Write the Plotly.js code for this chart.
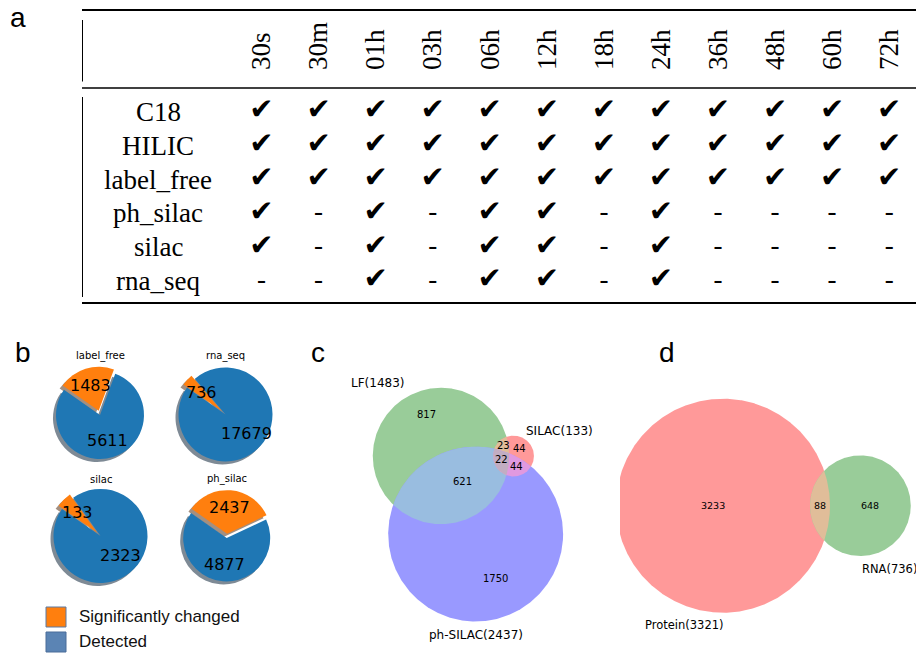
<!DOCTYPE html>
<html>
<head>
<meta charset="utf-8">
<script src="https://cdn.plot.ly/plotly-3.0.1.min.js"></script>
<style>html,body{margin:0;padding:0;background:#fff;}#chart{width:916px;height:653px;}</style>
</head>
<body>
<div id="chart"></div>
<script>
// ================= DATA =================
// Panel a: availability table
const timepoints = ['30s','30m','01h','03h','06h','12h','18h','24h','36h','48h','60h','72h'];
const datasets = ['C18','HILIC','label_free','ph_silac','silac','rna_seq'];
const availC18       = [1,1,1,1,1,1,1,1,1,1,1,1];
const availHILIC     = [1,1,1,1,1,1,1,1,1,1,1,1];
const availLabelFree = [1,1,1,1,1,1,1,1,1,1,1,1];
const availPhSilac   = [1,0,1,0,1,1,0,1,0,0,0,0];
const availSilac     = [1,0,1,0,1,1,0,1,0,0,0,0];
const availRnaSeq    = [0,0,1,0,1,1,0,1,0,0,0,0];
// Panel b: pies
const pieNames    = ['label_free','rna_seq','silac','ph_silac'];
const pieChanged  = [1483, 736, 133, 2437];
const pieDetected = [5611, 17679, 2323, 4877];
const sliceLabels = ['Significantly changed','Detected'];
// Panel c: 3-set Venn, region counts in order Abc, aBc, ABc, abC, AbC, aBC, ABC
const vennCNames   = ['LF','SILAC','ph-SILAC'];
const vennCRegions = [817, 44, 23, 1750, 621, 44, 22];
// Panel d: 2-set Venn, region counts in order Ab, aB, AB
const vennDNames   = ['Protein','RNA'];
const vennDRegions = [3233, 648, 88];

// ================= HELPERS =================
const W = 916, H = 653;
const px = x => x / W;
const py = y => 1 - y / H;
const traces = [];
const annotations = [];
const shapes = [];
const BLACK = '#000000';
const SERIF = 'Liberation Serif, Times New Roman, serif';

// ================= PANEL A =================
const availRows = [availC18, availHILIC, availLabelFree, availPhSilac, availSilac, availRnaSeq];
const chkX = [], chkY = [], dashX = [], dashY = [];
availRows.forEach((row, i) => row.forEach((v, j) => {
  if (v) { chkX.push(timepoints[j]); chkY.push(datasets[i]); }
  else { dashX.push(timepoints[j]); dashY.push(datasets[i]); }
}));
traces.push({type:'scatter', mode:'text', x:chkX, y:chkY, text:chkX.map(() => '\u2714'),
  textfont:{family:'DejaVu Sans', size:29, color:BLACK}, xaxis:'x', yaxis:'y',
  hoverinfo:'skip', showlegend:false, cliponaxis:false});
traces.push({type:'scatter', mode:'text', x:dashX, y:dashY, text:dashX.map(() => '-'),
  textfont:{family:SERIF, size:27, color:BLACK}, xaxis:'x', yaxis:'y',
  hoverinfo:'skip', showlegend:false, cliponaxis:false});
datasets.forEach(d => annotations.push({xref:'paper', yref:'y', x:px(158), y:d, text:d,
  showarrow:false, xanchor:'center', yanchor:'middle',
  font:{family:SERIF, size:27, color:BLACK}}));
// booktabs-style rules
shapes.push({type:'line', xref:'paper', yref:'paper', x0:px(82), x1:1, y0:py(10), y1:py(10), line:{color:BLACK, width:2}});
shapes.push({type:'line', xref:'paper', yref:'paper', x0:px(82), x1:1, y0:py(88), y1:py(88), line:{color:BLACK, width:1.4}});
shapes.push({type:'line', xref:'paper', yref:'paper', x0:px(82), x1:1, y0:py(303), y1:py(303), line:{color:BLACK, width:2}});
shapes.push({type:'line', xref:'paper', yref:'paper', x0:px(82.5), x1:px(82.5), y0:py(20), y1:py(81.5), line:{color:BLACK, width:1}});
shapes.push({type:'line', xref:'paper', yref:'paper', x0:px(82.5), x1:px(82.5), y0:py(97), y1:py(297), line:{color:BLACK, width:1}});

// ================= PANEL B =================
const pieGeom = [
  {cx:100,   cy:415,   r:44,   ty:356},
  {cx:225.5, cy:414.5, r:47,   ty:356},
  {cx:100.5, cy:536,   r:47,   ty:479},
  {cx:226.7, cy:538,   r:43.5, ty:479}
];
const PULL = 0.1, ROT = -55, SH = 3;
const pieColors = ['#ff7f0e', '#1f77b4'];
const shadowColors = ['#a38f80', '#7e8a95'];
function pieDomain(g, dx, dy) {
  const half = g.r * (1 + PULL);
  return {x:[px(g.cx + dx - half), px(g.cx + dx + half)], y:[py(g.cy + dy + half), py(g.cy + dy - half)]};
}
const pieBase = {type:'pie', sort:false, direction:'clockwise', rotation:ROT, pull:[PULL, 0],
  textinfo:'none', textposition:'none', hoverinfo:'none', showlegend:false};
pieNames.forEach((n, i) => {
  traces.push(Object.assign({}, pieBase, {labels:sliceLabels, values:[pieChanged[i], pieDetected[i]],
    domain:pieDomain(pieGeom[i], -SH, SH), marker:{colors:shadowColors, line:{width:0}}}));
});
pieNames.forEach((n, i) => {
  traces.push(Object.assign({}, pieBase, {labels:sliceLabels, values:[pieChanged[i], pieDetected[i]],
    domain:pieDomain(pieGeom[i], 0, 0), marker:{colors:pieColors, line:{width:0}}}));
  const g = pieGeom[i];
  const f = pieChanged[i] / (pieChanged[i] + pieDetected[i]);
  const phiO = (ROT + f * 180) * Math.PI / 180;
  const phiB = (ROT + f * 360 + (1 - f) * 180) * Math.PI / 180;
  const dO = g.r * (0.6 + PULL), dB = g.r * 0.6;
  annotations.push({xref:'paper', yref:'paper', x:px(g.cx + dO * Math.sin(phiO)), y:py(g.cy - dO * Math.cos(phiO)),
    text:String(pieChanged[i]), showarrow:false, xanchor:'center', yanchor:'middle',
    font:{family:'DejaVu Sans', size:16, color:BLACK}});
  annotations.push({xref:'paper', yref:'paper', x:px(g.cx + dB * Math.sin(phiB)), y:py(g.cy - dB * Math.cos(phiB)),
    text:String(pieDetected[i]), showarrow:false, xanchor:'center', yanchor:'middle',
    font:{family:'DejaVu Sans', size:16, color:BLACK}});
  annotations.push({xref:'paper', yref:'paper', x:px(g.cx), y:py(g.ty), text:n, showarrow:false,
    xanchor:'center', yanchor:'middle', font:{family:'DejaVu Sans', size:10, color:BLACK}});
});
// legend
shapes.push({type:'rect', xref:'paper', yref:'paper', x0:px(46), x1:px(66), y0:py(627), y1:py(607),
  fillcolor:pieColors[0], line:{color:'#5a7aa5', width:1}});
shapes.push({type:'rect', xref:'paper', yref:'paper', x0:px(46), x1:px(66), y0:py(652), y1:py(632),
  fillcolor:'#5b84b4', line:{color:'#4a6d99', width:1}});
annotations.push({xref:'paper', yref:'paper', x:px(77), y:py(616), text:sliceLabels[0], showarrow:false,
  xanchor:'left', yanchor:'middle', font:{family:'Liberation Sans', size:17, color:'#111'}});
annotations.push({xref:'paper', yref:'paper', x:px(77), y:py(641), text:sliceLabels[1], showarrow:false,
  xanchor:'left', yanchor:'middle', font:{family:'Liberation Sans', size:17, color:'#111'}});

// ================= VENN HELPERS =================
function lensArea(r1, r2, d) {
  if (d >= r1 + r2) return 0;
  if (d <= Math.abs(r1 - r2)) return Math.PI * Math.min(r1, r2) ** 2;
  const a1 = Math.acos((d*d + r1*r1 - r2*r2) / (2*d*r1));
  const a2 = Math.acos((d*d + r2*r2 - r1*r1) / (2*d*r2));
  return r1*r1*a1 + r2*r2*a2 - 0.5*Math.sqrt((-d+r1+r2)*(d+r1-r2)*(d-r1+r2)*(d+r1+r2));
}
function solveDistance(r1, r2, area) {
  let lo = Math.abs(r1 - r2), hi = r1 + r2;
  for (let i = 0; i < 200; i++) { const m = (lo + hi) / 2; if (lensArea(r1, r2, m) > area) lo = m; else hi = m; }
  return (lo + hi) / 2;
}
function circlePoly(c, n) {
  const pts = [];
  for (let k = 0; k < n; k++) { const t = 2 * Math.PI * k / n; pts.push([c.x + c.r * Math.cos(t), c.y + c.r * Math.sin(t)]); }
  return pts;
}
function clipPoly(subject, clip) {
  let output = subject;
  for (let i = 0; i < clip.length; i++) {
    const a = clip[i], b = clip[(i + 1) % clip.length];
    const input = output; output = [];
    if (!input.length) break;
    const ex = b[0] - a[0], ey = b[1] - a[1];
    const inside = p => ex * (p[1] - a[1]) - ey * (p[0] - a[0]) >= 0;
    const inter = (S, E) => {
      const dx = E[0] - S[0], dy = E[1] - S[1];
      const t = (ey * (S[0] - a[0]) - ex * (S[1] - a[1])) / (ex * dy - ey * dx);
      return [S[0] + t * dx, S[1] + t * dy];
    };
    let S = input[input.length - 1];
    for (const E of input) {
      if (inside(E)) { if (!inside(S)) output.push(inter(S, E)); output.push(E); }
      else if (inside(S)) output.push(inter(S, E));
      S = E;
    }
  }
  return output;
}
function vennRGB(c) { return 'rgb(' + c.map(v => Math.round(255 * (0.6 + 0.4 * Math.min(v, 1)))).join(',') + ')'; }
function mix(cols, k) { return [0,1,2].map(ch => Math.min(1, k * cols.reduce((s, c) => s + c[ch], 0))); }
function fillTrace(poly, color, xa, ya) {
  const xs = poly.map(p => p[0]), ys = poly.map(p => p[1]);
  xs.push(xs[0]); ys.push(ys[0]);
  return {type:'scatter', mode:'lines', x:xs, y:ys, fill:'toself', fillcolor:color,
    line:{width:0, color:color}, xaxis:xa, yaxis:ya, hoverinfo:'skip', showlegend:false};
}
// label position heuristic from the region's bounding arcs
function regionLabel(circles, bits, largeArcRule) {
  const N = 2880, mids = [], lens = [];
  circles.forEach((c, i) => {
    const match = [];
    for (let k = 0; k < N; k++) {
      const t = 2 * Math.PI * k / N, p = [c.x + c.r * Math.cos(t), c.y + c.r * Math.sin(t)];
      let ok = true;
      circles.forEach((o, j) => { if (j !== i && ((Math.hypot(p[0] - o.x, p[1] - o.y) < o.r) !== !!bits[j])) ok = false; });
      match.push(ok);
    }
    const start = match.indexOf(false);
    if (start < 0) return;
    let k = 0;
    while (k < N) {
      if (match[(start + k) % N]) {
        let len = 0;
        while (k < N && match[(start + k) % N]) { len++; k++; }
        const mi = start + k - len + (len - 1) / 2;
        const t = 2 * Math.PI * mi / N;
        mids.push([c.x + c.r * Math.cos(t), c.y + c.r * Math.sin(t)]);
        lens.push(len * 360 / N);
      } else k++;
    }
  });
  let pos = [mids.reduce((s, m) => s + m[0], 0) / mids.length, mids.reduce((s, m) => s + m[1], 0) / mids.length];
  if (largeArcRule) {
    let bi = 0; lens.forEach((l, i) => { if (l > lens[bi]) bi = i; });
    if (lens[bi] > 180) pos = [(pos[0] + mids[bi][0]) / 2, (pos[1] + mids[bi][1]) / 2];
  }
  return pos;
}

// ================= PANEL C =================
const [cAbc, caBc, cABc, cabC, cAbC, caBC, cABC] = vennCRegions;
const nA = cAbc + cABc + cAbC + cABC, nB = caBc + cABc + caBC + cABC, nC = cabC + cAbC + caBC + cABC;
const rA = Math.sqrt(nA / Math.PI), rB = Math.sqrt(nB / Math.PI), rC = Math.sqrt(nC / Math.PI);
const dAB = solveDistance(rA, rB, cABc + cABC);
const dAC = solveDistance(rA, rC, cAbC + cABC);
const dBC = solveDistance(rB, rC, caBC + cABC);
const xC = (dAC * dAC - dBC * dBC + dAB * dAB) / (2 * dAB);
const circC = [{x:0, y:0, r:rA}, {x:dAB, y:0, r:rB}, {x:xC, y:-Math.sqrt(Math.max(0, dAC * dAC - xC * xC)), r:rC}];
const setColC = [[0,0.5,0],[1,0,0],[0,0,1]];
const SC = 3.14, cPx = [441, 456];
const polysC = circC.map(c => circlePoly(c, 720));
polysC.forEach((p, i) => traces.push(fillTrace(p, vennRGB(setColC[i]), 'x2', 'y2')));
traces.push(fillTrace(clipPoly(polysC[0], polysC[1]), vennRGB(mix([setColC[0], setColC[1]], 0.7)), 'x2', 'y2'));
traces.push(fillTrace(clipPoly(polysC[0], polysC[2]), vennRGB(mix([setColC[0], setColC[2]], 0.7)), 'x2', 'y2'));
traces.push(fillTrace(clipPoly(polysC[1], polysC[2]), vennRGB(mix([setColC[1], setColC[2]], 0.7)), 'x2', 'y2'));
traces.push(fillTrace(clipPoly(clipPoly(polysC[0], polysC[1]), polysC[2]), vennRGB(mix(setColC, 0.4)), 'x2', 'y2'));
const bitsC = [[1,0,0],[0,1,0],[1,1,0],[0,0,1],[1,0,1],[0,1,1],[1,1,1]];
vennCRegions.forEach((v, i) => {
  const p = regionLabel(circC, bitsC[i], true);
  annotations.push({xref:'x2', yref:'y2', x:p[0], y:p[1], text:String(v), showarrow:false,
    xanchor:'center', yanchor:'middle', font:{family:'DejaVu Sans', size:10, color:BLACK}});
});
const setFont12 = {family:'DejaVu Sans', size:12, color:BLACK};
annotations.push({xref:'x2', yref:'y2', x:circC[0].x - circC[0].r / 2, y:circC[0].y + circC[0].r + 4.5 / SC,
  text:vennCNames[0] + '(' + nA + ')', showarrow:false, xanchor:'right', yanchor:'middle', font:setFont12});
annotations.push({xref:'x2', yref:'y2', x:circC[1].x + circC[1].r / 2, y:circC[1].y + circC[1].r + 4.5 / SC,
  text:vennCNames[1] + '(' + nB + ')', showarrow:false, xanchor:'left', yanchor:'middle', font:setFont12});
annotations.push({xref:'x2', yref:'y2', x:circC[2].x, y:circC[2].y - circC[2].r - 13 / SC,
  text:vennCNames[2] + '(' + nC + ')', showarrow:false, xanchor:'center', yanchor:'middle', font:setFont12});

// ================= PANEL D =================
const [dAb, daB, dAB2] = vennDRegions;
const nP = dAb + dAB2, nR = daB + dAB2;
const rP = Math.sqrt(nP / Math.PI), rR = Math.sqrt(nR / Math.PI);
const dPR = solveDistance(rP, rR, dAB2);
const circD = [{x:0, y:0, r:rP}, {x:dPR, y:0, r:rR}];
const setColD = [[1,0,0],[0,0.5,0]];
const SD = 3.291, dPx = [723, 505.7];
const polysD = circD.map(c => circlePoly(c, 720));
polysD.forEach((p, i) => traces.push(fillTrace(p, vennRGB(setColD[i]), 'x3', 'y3')));
traces.push(fillTrace(clipPoly(polysD[0], polysD[1]), vennRGB(mix(setColD, 0.7)), 'x3', 'y3'));
const bitsD = [[1,0],[0,1],[1,1]];
vennDRegions.forEach((v, i) => {
  const p = regionLabel(circD, bitsD[i], false);
  annotations.push({xref:'x3', yref:'y3', x:p[0], y:p[1], text:String(v), showarrow:false,
    xanchor:'center', yanchor:'middle', font:{family:'DejaVu Sans', size:9.5, color:BLACK}});
});
const setFont11 = {family:'DejaVu Sans', size:11.5, color:BLACK};
annotations.push({xref:'x3', yref:'y3', x:circD[0].x + 3 / SD, y:circD[0].y - circD[0].r - 12.5 / SD,
  text:vennDNames[0] + '(' + nP + ')', showarrow:false, xanchor:'right', yanchor:'middle', font:setFont11});
annotations.push({xref:'x3', yref:'y3', x:circD[1].x, y:circD[1].y - circD[1].r - 12.5 / SD,
  text:vennDNames[1] + '(' + nR + ')', showarrow:false, xanchor:'left', yanchor:'middle', font:setFont11});

// ================= PANEL LETTERS =================
const letterFont = {family:'Liberation Sans', size:28, color:BLACK};
[['a', 18, 17], ['b', 23, 352], ['c', 318, 352], ['d', 667, 352]].forEach(l =>
  annotations.push({xref:'paper', yref:'paper', x:px(l[1]), y:py(l[2]), text:l[0], showarrow:false,
    xanchor:'center', yanchor:'middle', font:letterFont}));

// ================= LAYOUT =================
const hidden = {visible:false, showgrid:false, zeroline:false, fixedrange:true};
const layout = {
  width:W, height:H, margin:{l:0, r:0, t:0, b:0}, paper_bgcolor:'#ffffff', plot_bgcolor:'rgba(0,0,0,0)',
  showlegend:false,
  xaxis:{type:'category', categoryorder:'array', categoryarray:timepoints, domain:[px(233), 1], range:[-0.5, 11.47],
    side:'top', tickangle:-90, ticks:'', showgrid:false, zeroline:false, showline:false, ticklabelstandoff:24,
    tickfont:{family:SERIF, size:27, color:BLACK}, anchor:'y', fixedrange:true},
  yaxis:{type:'category', categoryorder:'array', categoryarray:datasets, domain:[py(298), py(95)], range:[5.5, -0.5],
    showticklabels:false, showgrid:false, zeroline:false, showline:false, ticks:'', anchor:'x', fixedrange:true},
  xaxis2:Object.assign({}, hidden, {domain:[px(300), px(620)], range:[(300 - cPx[0]) / SC, (620 - cPx[0]) / SC], anchor:'y2'}),
  yaxis2:Object.assign({}, hidden, {domain:[py(653), py(330)], range:[(cPx[1] - 653) / SC, (cPx[1] - 330) / SC], anchor:'x2'}),
  xaxis3:Object.assign({}, hidden, {domain:[px(620), 1], range:[(620 - dPx[0]) / SD, (916 - dPx[0]) / SD], anchor:'y3'}),
  yaxis3:Object.assign({}, hidden, {domain:[py(653), py(330)], range:[(dPx[1] - 653) / SD, (dPx[1] - 330) / SD], anchor:'x3'}),
  annotations:annotations,
  shapes:shapes
};
Plotly.newPlot('chart', traces, layout, {displayModeBar:false, staticPlot:true});
</script>
</body>
</html>
